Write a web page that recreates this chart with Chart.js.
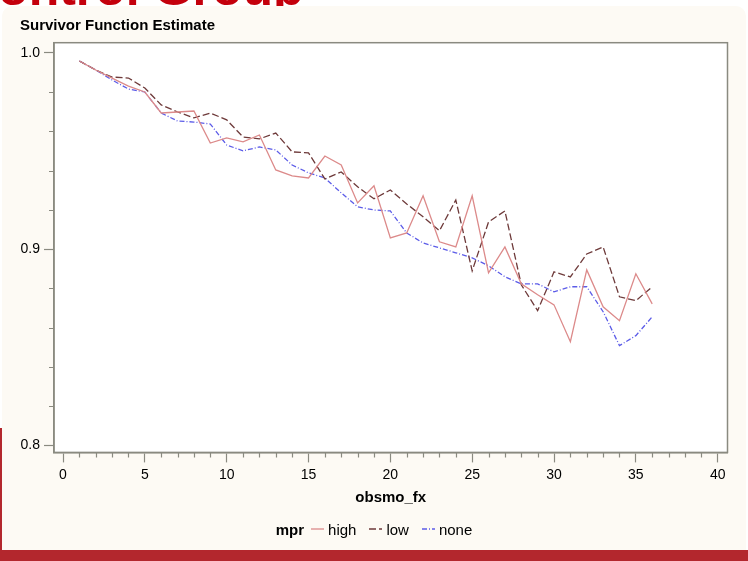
<!DOCTYPE html>
<html>
<head>
<meta charset="utf-8">
<script src="https://cdn.jsdelivr.net/npm/chart.js@4.4.1/dist/chart.umd.min.js"></script>
<style>
  html, body { margin: 0; padding: 0; }
  body {
    width: 748px; height: 561px; overflow: hidden; position: relative;
    background: #fff; font-family: "Liberation Sans", Arial, sans-serif;
  }
  #slideLeft { position: absolute; left: 0; top: 428px; width: 3px; height: 133px; background: #b3272d; }
  #slideBottom { position: absolute; left: 0; top: 550px; width: 748px; height: 11px; background: #b3272d; }
  #heading {
    position: absolute; left: -38px; top: -41px; white-space: nowrap;
    font: bold 50px "Liberation Sans", Arial, sans-serif; color: #c4000c;
  }
  #panel {
    position: absolute; left: 2px; top: 6px; width: 744px; height: 544px;
    background: #fdfaf4; border-radius: 10px 10px 0 0;
  }
  #wrap { position: absolute; left: 0; top: 0; width: 748px; height: 561px; }
  #legend {
    position: absolute; left: 0; top: 520px; width: 748px; height: 18px;
    display: flex; justify-content: center; align-items: center;
    font-size: 15px; color: #000;
  }
  #legend b { margin-right: 7px; }
  #legend svg { margin-right: 4px; }
  #legend span { margin-right: 13px; }
  #legend span:last-child { margin-right: 0; }
</style>
</head>
<body>
<div id="slideLeft"></div>
<div id="slideBottom"></div>
<div id="heading">Control Group</div>
<div id="panel"></div>
<div id="wrap"><canvas id="survival" width="748" height="561"></canvas></div>
<div id="legend"></div>
<script>
  // survivor estimates by month, one list per mpr group
  var months = [1, 2, 3, 4, 5, 6, 7, 8, 9, 10, 11, 12, 13, 14, 15, 16, 17, 18,
    19, 20, 21, 22, 23, 24, 25, 26, 27, 28, 29, 30, 31, 32, 33, 34, 35, 36];
  var highSurv = [0.9958, 0.9912, 0.9871, 0.9830, 0.9800, 0.9693, 0.9698, 0.9703,
    0.9540, 0.9566, 0.9546, 0.9581, 0.9403, 0.9373, 0.9362, 0.9474, 0.9428, 0.9235,
    0.9322, 0.9057, 0.9082, 0.9271, 0.9037, 0.9011, 0.9271, 0.8879, 0.9011, 0.8823,
    0.8767, 0.8716, 0.8528, 0.8894, 0.8706, 0.8635, 0.8874, 0.8721];
  var lowSurv = [0.9958, 0.9912, 0.9876, 0.9871, 0.9820, 0.9734, 0.9698, 0.9668,
    0.9693, 0.9658, 0.9571, 0.9561, 0.9591, 0.9495, 0.9490, 0.9357, 0.9393, 0.9317,
    0.9256, 0.9301, 0.9230, 0.9164, 0.9093, 0.9250, 0.8889, 0.9138, 0.9194, 0.8818,
    0.8686, 0.8884, 0.8858, 0.8975, 0.9011, 0.8757, 0.8737, 0.8808];
  var noneSurv = [0.9958, 0.9912, 0.9861, 0.9815, 0.9800, 0.9693, 0.9652, 0.9647,
    0.9637, 0.9530, 0.9500, 0.9520, 0.9505, 0.9428, 0.9388, 0.9362, 0.9286, 0.9215,
    0.9199, 0.9194, 0.9082, 0.9031, 0.9006, 0.8981, 0.8955, 0.8915, 0.8859, 0.8823,
    0.8823, 0.8782, 0.8808, 0.8808, 0.8681, 0.8508, 0.8559, 0.8655];

  var groupNames = ["high", "low", "none"];
  var xMajorTicks = [0, 5, 10, 15, 20, 25, 30, 35, 40];
  var xMinorTicks = [1, 2, 3, 4, 6, 7, 8, 9, 11, 12, 13, 14, 16, 17, 18, 19, 21, 22,
    23, 24, 26, 27, 28, 29, 31, 32, 33, 34, 36, 37, 38, 39];
  var yMajorTicks = [0.8, 0.9, 1.0];
  var yMinorTicks = [0.82, 0.84, 0.86, 0.88, 0.92, 0.94, 0.96, 0.98];

  var FRAME = "#8a8a80";
  var FONT = "'Liberation Sans', Arial, sans-serif";
  var styles = [
    { color: "#dc8a8a", dash: [] },
    { color: "#6e3a3a", dash: [7, 3] },
    { color: "#5c5ce8", dash: [5, 2, 1, 2] },
  ];

  function points(values) {
    return months.map(function (m, i) { return { x: m, y: values[i] }; });
  }

  // white plot area, closed frame and the short minor tick marks
  var framePlugin = {
    id: "frame",
    beforeDraw: function (chart) {
      var a = chart.chartArea, ctx = chart.ctx;
      ctx.save();
      ctx.fillStyle = "#fff";
      ctx.fillRect(a.left, a.top, a.right - a.left, a.bottom - a.top);
      ctx.restore();
    },
    afterDraw: function (chart) {
      var a = chart.chartArea, ctx = chart.ctx;
      var xs = chart.scales.x, ys = chart.scales.y;
      ctx.save();
      ctx.strokeStyle = FRAME;
      ctx.lineWidth = 1.5;
      ctx.strokeRect(a.left, a.top, a.right - a.left, a.bottom - a.top);
      ctx.lineWidth = 1.2;
      ctx.beginPath();
      xMinorTicks.forEach(function (v) {
        var px = Math.round(xs.getPixelForValue(v)) + 0.5;
        ctx.moveTo(px, a.bottom);
        ctx.lineTo(px, a.bottom + 5);
      });
      yMinorTicks.forEach(function (v) {
        var py = Math.round(ys.getPixelForValue(v)) + 0.5;
        ctx.moveTo(a.left, py);
        ctx.lineTo(a.left - 5, py);
      });
      ctx.stroke();
      ctx.restore();
    },
  };

  var datasets = [highSurv, lowSurv, noneSurv].map(function (values, i) {
    return {
      label: groupNames[i],
      data: points(values),
      borderColor: styles[i].color,
      backgroundColor: styles[i].color,
      borderDash: styles[i].dash,
      borderWidth: 1.3,
      pointRadius: 0,
      tension: 0,
    };
  });

  new Chart(document.getElementById("survival"), {
    type: "line",
    data: { datasets: datasets },
    plugins: [framePlugin],
    options: {
      responsive: false,
      animation: false,
      layout: { padding: { left: 20, right: 20.5, top: 0, bottom: 54.6 } },
      plugins: {
        legend: { display: false },
        tooltip: { enabled: false },
        title: {
          display: true,
          text: "Survivor Function Estimate",
          align: "start",
          color: "#000",
          font: { family: FONT, size: 15, weight: "bold", lineHeight: 1.2 },
          padding: { top: 16.5, bottom: 8.2 },
        },
      },
      scales: {
        x: {
          type: "linear",
          min: -0.55,
          max: 40.6,
          afterBuildTicks: function (s) {
            s.ticks = xMajorTicks.map(function (v) { return { value: v }; });
          },
          afterFit: function (s) { s.height = 54; },
          ticks: {
            color: "#000", padding: 4, maxRotation: 0, autoSkip: false,
            font: { family: FONT, size: 14 },
          },
          grid: { drawOnChartArea: false, tickLength: 10, color: FRAME, tickWidth: 1.2 },
          border: { color: FRAME, width: 1.5 },
          title: {
            display: true, text: "obsmo_fx", color: "#000", padding: 0,
            font: { family: FONT, size: 15, weight: "bold" },
          },
        },
        y: {
          min: 0.79644,
          max: 1.0051,
          afterBuildTicks: function (s) {
            s.ticks = yMajorTicks.map(function (v) { return { value: v }; });
          },
          afterFit: function (s) { s.width = 34; },
          ticks: {
            color: "#000", padding: 4,
            font: { family: FONT, size: 14 },
            callback: function (v) { return Number(v).toFixed(1); },
          },
          grid: { drawOnChartArea: false, tickLength: 10, color: FRAME, tickWidth: 1.2 },
          border: { color: FRAME, width: 1.5 },
        },
      },
    },
  });

  // legend row: "mpr" then a line sample and name for each group
  var legend = document.getElementById("legend");
  var html = "<b>mpr</b>";
  groupNames.forEach(function (name, i) {
    html += '<svg width="13" height="4"><line x1="0" y1="2" x2="13" y2="2" stroke="' +
      styles[i].color + '" stroke-width="1.3" stroke-dasharray="' +
      (styles[i].dash.length ? styles[i].dash.join(",") : "none") + '"/></svg>' +
      "<span>" + name + "</span>";
  });
  legend.innerHTML = html;
</script>
</body>
</html>
